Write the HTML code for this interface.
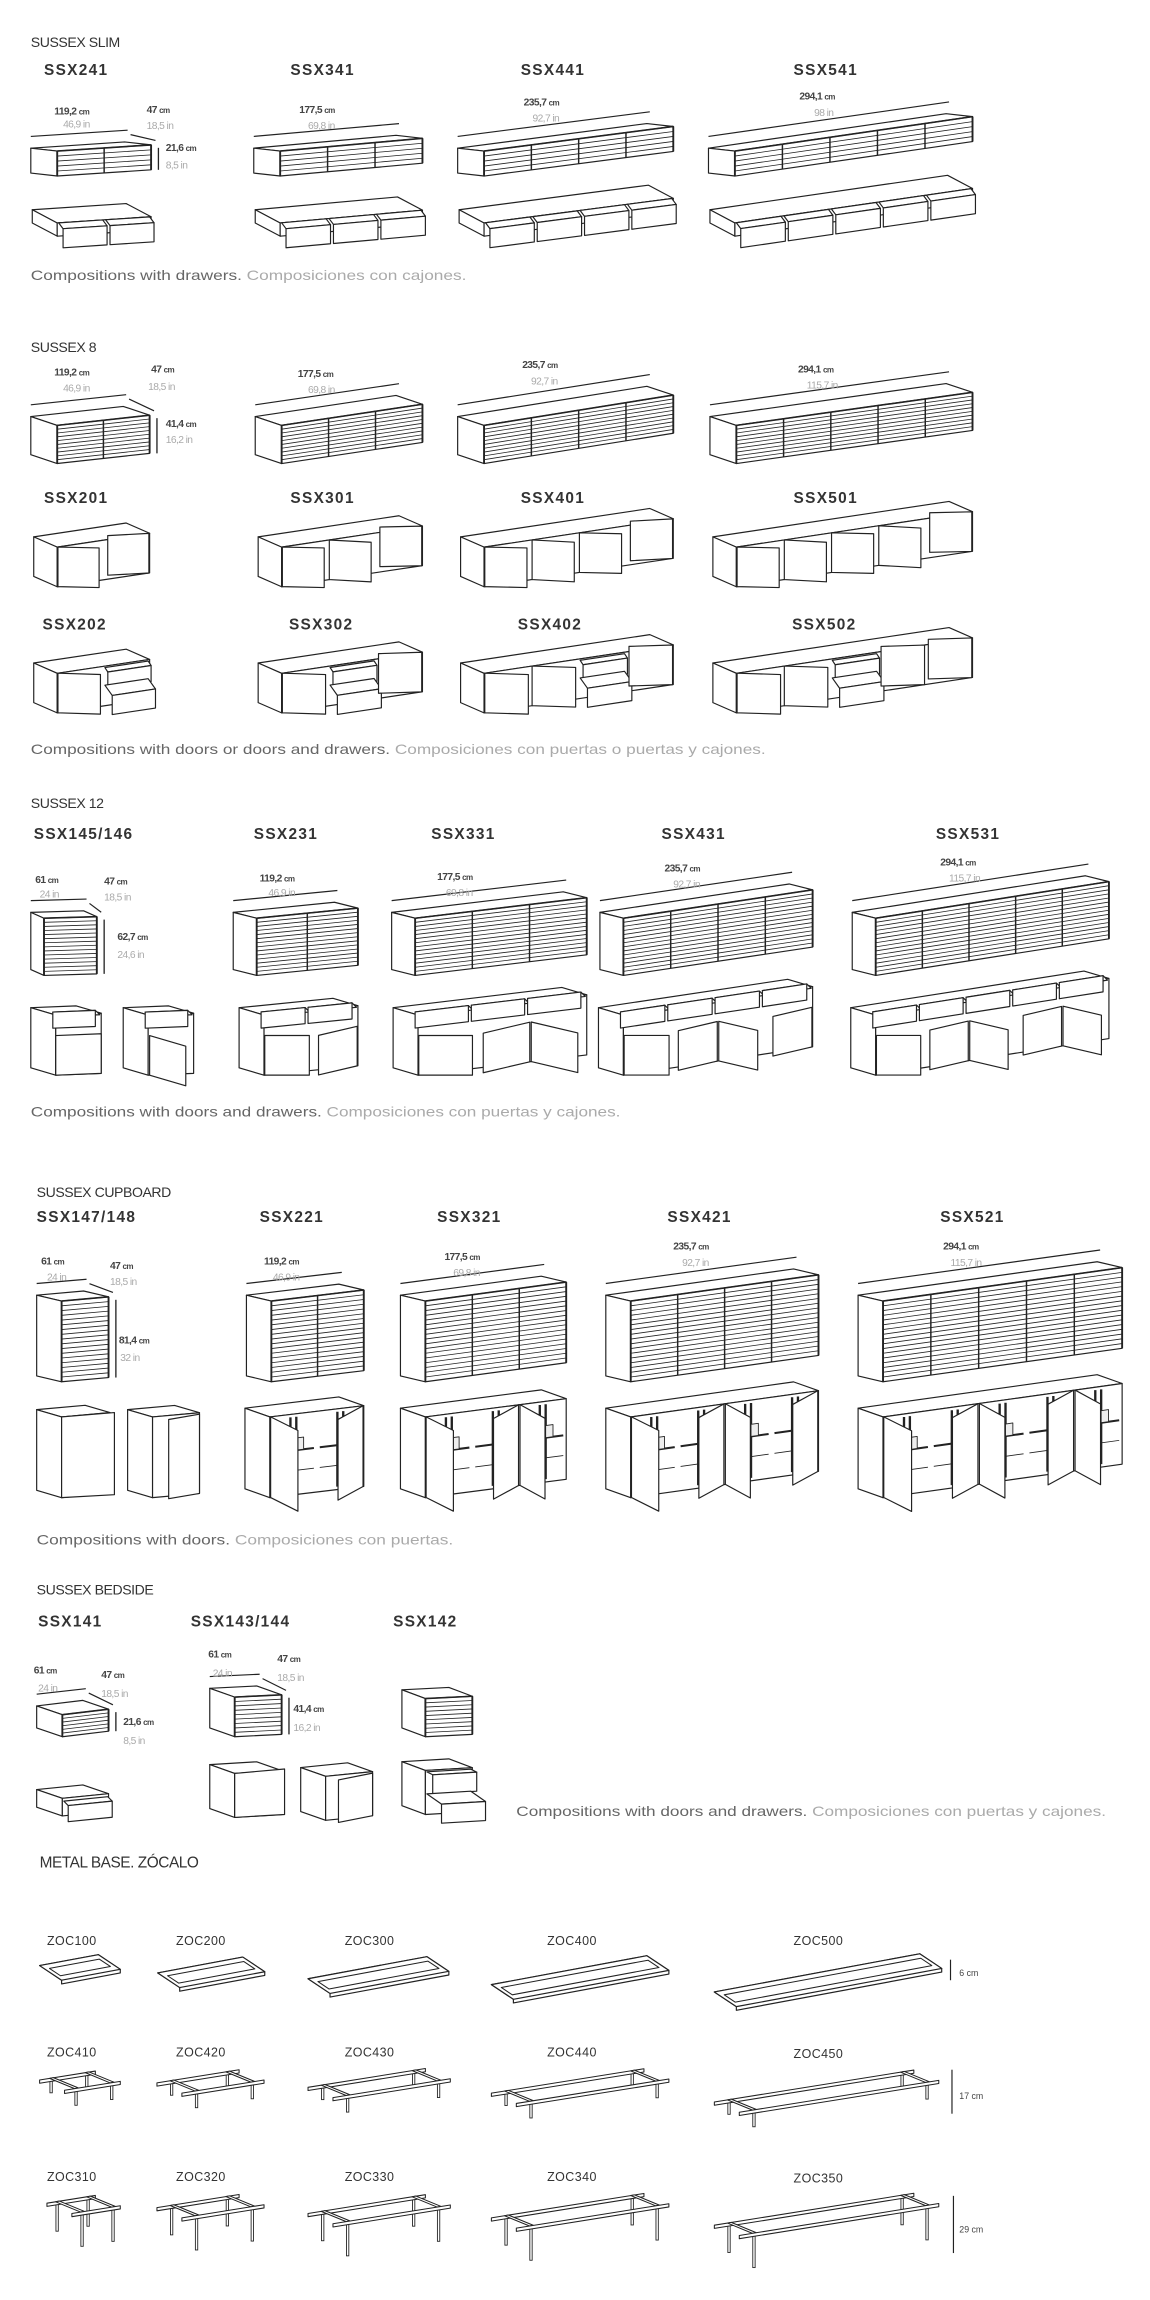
<!DOCTYPE html>
<html><head><meta charset="utf-8">
<style>
html,body{margin:0;padding:0;background:#fff;}
svg{display:block}
text{font-family:"Liberation Sans",sans-serif;}
.h{font-size:9.6px;fill:#333;letter-spacing:-0.3px}
.l{font-size:10.5px;font-weight:bold;fill:#333;letter-spacing:0.9px}
.z{font-size:8.5px;fill:#333;letter-spacing:0.3px}
.c{font-size:7px;font-weight:bold;fill:#444;letter-spacing:-0.4px}
.c tspan.u{font-size:5.5px}
.i{font-size:7px;fill:#aaa;letter-spacing:-0.4px}
.cap{font-size:9.5px;fill:#666}
.cap tspan.g{fill:#aaa}
</style></head>
<body>
<svg xmlns="http://www.w3.org/2000/svg" width="1150" height="2300" viewBox="0 0 784 1568" preserveAspectRatio="none">
<rect width="784" height="1568" fill="#fff"/>
<g id="g"></g>
<g id="t">
<!-- SLIM -->
<text class="h" x="21" y="32">SUSSEX SLIM</text>
<text class="l" x="30" y="51">SSX241</text>
<text class="l" x="198" y="51">SSX341</text>
<text class="l" x="355" y="51">SSX441</text>
<text class="l" x="541" y="51">SSX541</text>
<text class="c" x="37" y="78">119,2 <tspan class="u">cm</tspan></text><text class="i" x="43" y="87">46,9 in</text>
<text class="c" x="100" y="77">47 <tspan class="u">cm</tspan></text><text class="i" x="100" y="88">18,5 in</text>
<text class="c" x="113" y="103">21,6 <tspan class="u">cm</tspan></text><text class="i" x="113" y="115">8,5 in</text>
<text class="c" x="204" y="77">177,5 <tspan class="u">cm</tspan></text><text class="i" x="210" y="88">69,8 in</text>
<text class="c" x="357" y="72">235,7 <tspan class="u">cm</tspan></text><text class="i" x="363" y="83">92,7 in</text>
<text class="c" x="545" y="68">294,1 <tspan class="u">cm</tspan></text><text class="i" x="555" y="79">98 in</text>
<text class="cap" x="21" y="191" textLength="297" lengthAdjust="spacingAndGlyphs">Compositions with drawers. <tspan class="g">Composiciones con cajones.</tspan></text>
<!-- S8 -->
<text class="h" x="21" y="240">SUSSEX 8</text>
<text class="c" x="37" y="256">119,2 <tspan class="u">cm</tspan></text><text class="i" x="43" y="267">46,9 in</text>
<text class="c" x="103" y="254">47 <tspan class="u">cm</tspan></text><text class="i" x="101" y="266">18,5 in</text>
<text class="c" x="113" y="291">41,4 <tspan class="u">cm</tspan></text><text class="i" x="113" y="302">16,2 in</text>
<text class="c" x="203" y="257">177,5 <tspan class="u">cm</tspan></text><text class="i" x="210" y="268">69,8 in</text>
<text class="c" x="356" y="251">235,7 <tspan class="u">cm</tspan></text><text class="i" x="362" y="262">92,7 in</text>
<text class="c" x="544" y="254">294,1 <tspan class="u">cm</tspan></text><text class="i" x="550" y="265">115,7 in</text>
<text class="l" x="30" y="343">SSX201</text>
<text class="l" x="198" y="343">SSX301</text>
<text class="l" x="355" y="343">SSX401</text>
<text class="l" x="541" y="343">SSX501</text>
<text class="l" x="29" y="429">SSX202</text>
<text class="l" x="197" y="429">SSX302</text>
<text class="l" x="353" y="429">SSX402</text>
<text class="l" x="540" y="429">SSX502</text>
<text class="cap" x="21" y="514" textLength="501" lengthAdjust="spacingAndGlyphs">Compositions with doors or doors and drawers. <tspan class="g">Composiciones con puertas o puertas y cajones.</tspan></text>
<!-- S12 -->
<text class="h" x="21" y="551">SUSSEX 12</text>
<text class="l" x="23" y="572">SSX145/146</text>
<text class="l" x="173" y="572">SSX231</text>
<text class="l" x="294" y="572">SSX331</text>
<text class="l" x="451" y="572">SSX431</text>
<text class="l" x="638" y="572">SSX531</text>
<text class="c" x="24" y="602">61 <tspan class="u">cm</tspan></text><text class="i" x="27" y="612">24 in</text>
<text class="c" x="71" y="603">47 <tspan class="u">cm</tspan></text><text class="i" x="71" y="614">18,5 in</text>
<text class="c" x="80" y="641">62,7 <tspan class="u">cm</tspan></text><text class="i" x="80" y="653">24,6 in</text>
<text class="c" x="177" y="601">119,2 <tspan class="u">cm</tspan></text><text class="i" x="183" y="611">46,9 in</text>
<text class="c" x="298" y="600">177,5 <tspan class="u">cm</tspan></text><text class="i" x="304" y="611">69,8 in</text>
<text class="c" x="453" y="594">235,7 <tspan class="u">cm</tspan></text><text class="i" x="459" y="605">92,7 in</text>
<text class="c" x="641" y="590">294,1 <tspan class="u">cm</tspan></text><text class="i" x="647" y="601">115,7 in</text>
<text class="cap" x="21" y="761" textLength="402" lengthAdjust="spacingAndGlyphs">Compositions with doors and drawers. <tspan class="g">Composiciones con puertas y cajones.</tspan></text>
<!-- CUPBOARD -->
<text class="h" x="25" y="816">SUSSEX CUPBOARD</text>
<text class="l" x="25" y="833">SSX147/148</text>
<text class="l" x="177" y="833">SSX221</text>
<text class="l" x="298" y="833">SSX321</text>
<text class="l" x="455" y="833">SSX421</text>
<text class="l" x="641" y="833">SSX521</text>
<text class="c" x="28" y="862">61 <tspan class="u">cm</tspan></text><text class="i" x="32" y="873">24 in</text>
<text class="c" x="75" y="865">47 <tspan class="u">cm</tspan></text><text class="i" x="75" y="876">18,5 in</text>
<text class="c" x="81" y="916">81,4 <tspan class="u">cm</tspan></text><text class="i" x="82" y="928">32 in</text>
<text class="c" x="180" y="862">119,2 <tspan class="u">cm</tspan></text><text class="i" x="186" y="873">46,9 in</text>
<text class="c" x="303" y="859">177,5 <tspan class="u">cm</tspan></text><text class="i" x="309" y="870">69,8 in</text>
<text class="c" x="459" y="852">235,7 <tspan class="u">cm</tspan></text><text class="i" x="465" y="863">92,7 in</text>
<text class="c" x="643" y="852">294,1 <tspan class="u">cm</tspan></text><text class="i" x="648" y="863">115,7 in</text>
<text class="cap" x="25" y="1053" textLength="284" lengthAdjust="spacingAndGlyphs">Compositions with doors. <tspan class="g">Composiciones con puertas.</tspan></text>
<!-- BEDSIDE -->
<text class="h" x="25" y="1087">SUSSEX BEDSIDE</text>
<text class="l" x="26" y="1109">SSX141</text>
<text class="l" x="130" y="1109">SSX143/144</text>
<text class="l" x="268" y="1109">SSX142</text>
<text class="c" x="23" y="1141">61 <tspan class="u">cm</tspan></text><text class="i" x="26" y="1153">24 in</text>
<text class="c" x="69" y="1144">47 <tspan class="u">cm</tspan></text><text class="i" x="69" y="1157">18,5 in</text>
<text class="c" x="84" y="1176">21,6 <tspan class="u">cm</tspan></text><text class="i" x="84" y="1189">8,5 in</text>
<text class="c" x="142" y="1130">61 <tspan class="u">cm</tspan></text><text class="i" x="145" y="1143">24 in</text>
<text class="c" x="189" y="1133">47 <tspan class="u">cm</tspan></text><text class="i" x="189" y="1146">18,5 in</text>
<text class="c" x="200" y="1167">41,4 <tspan class="u">cm</tspan></text><text class="i" x="200" y="1180">16,2 in</text>
<text class="cap" x="352" y="1238" textLength="402" lengthAdjust="spacingAndGlyphs">Compositions with doors and drawers. <tspan class="g">Composiciones con puertas y cajones.</tspan></text>
<!-- ZOCALO -->
<text class="h" x="27" y="1273" style="font-size:10.5px">METAL BASE. ZÓCALO</text>
<text class="z" x="32" y="1326">ZOC100</text><text class="z" x="120" y="1326">ZOC200</text><text class="z" x="235" y="1326">ZOC300</text><text class="z" x="373" y="1326">ZOC400</text><text class="z" x="541" y="1326">ZOC500</text>
<text class="z" x="32" y="1402">ZOC410</text><text class="z" x="120" y="1402">ZOC420</text><text class="z" x="235" y="1402">ZOC430</text><text class="z" x="373" y="1402">ZOC440</text><text class="z" x="541" y="1403">ZOC450</text>
<text class="z" x="32" y="1487">ZOC310</text><text class="z" x="120" y="1487">ZOC320</text><text class="z" x="235" y="1487">ZOC330</text><text class="z" x="373" y="1487">ZOC340</text><text class="z" x="541" y="1488">ZOC350</text>
<text x="654" y="1347" style="font-size:6px;fill:#444">6 cm</text>
<text x="654" y="1431" style="font-size:6px;fill:#444">17 cm</text>
<text x="654" y="1522" style="font-size:6px;fill:#444">29 cm</text>
</g>
</svg>
<script>
(function(){
const NS='http://www.w3.org/2000/svg';
const G=document.getElementById('g');
const SC='#222';
function el(tag,a){const e=document.createElementNS(NS,tag);for(const k in a)e.setAttribute(k,a[k]);G.appendChild(e);return e;}
function f(p){return p[0].toFixed(2)+','+p[1].toFixed(2);}
function poly(pts,fill,sw){el('polygon',{points:pts.map(f).join(' '),fill:fill||'#fff',stroke:SC,'stroke-width':sw||0.8,'stroke-linejoin':'round'});}
function ln(a,b,sw,c){el('line',{x1:a[0],y1:a[1],x2:b[0],y2:b[1],stroke:c||SC,'stroke-width':sw||0.8});}
function A(p,v){return [p[0]+v[0],p[1]+v[1]];}
function geo(fx,fy,w,h,dx,dy,s){
  const F=[fx,fy],R=[fx+w,fy-w*s],B=[fx-dx,fy-dy],BR=[fx+w-dx,fy-w*s-dy];
  return {F,R,B,BR,Fb:[fx,fy+h],Rb:[R[0],R[1]+h],Bb:[B[0],B[1]+h],fx,fy,w,h,s,dx,dy};
}
function pt(g,u,v){return [g.fx+u,g.fy-u*g.s+v];}
function shell(g){poly([g.B,g.BR,g.R,g.F]);poly([g.B,g.F,g.Fb,g.Bb]);poly([g.F,g.R,g.Rb,g.Fb]);}
function closed(g,cols,n){
  shell(g);
  for(let k=1;k<n;k++)ln(pt(g,0,k*g.h/n),pt(g,g.w,k*g.h/n),0.55);
  for(let i=1;i<cols;i++)ln(pt(g,i*g.w/cols,0),pt(g,i*g.w/cols,g.h),1);
  ln(g.F,g.Fb,1.3);ln(g.R,g.Rb,1.3);ln(g.F,g.R,1.1);
}
function dims(g,first){
  ln(A(g.B,[0,-8]),A(g.BR,[2,-8]),0.8);
  if(first){
    ln(A(g.BR,[4,-5]),A(g.R,[3,-3]),0.8);
    ln([g.R[0]+5,g.R[1]+2],[g.R[0]+5,g.R[1]+g.h],0.9);
  }
}
// drawer pulled out: panel from u0 to u1, v0 to v1, pulled by P
function drawer(g,u0,u1,v0,v1,P){
  const a=pt(g,u0,v0),b=pt(g,u1,v0);
  const a2=A(a,P),b2=A(b,P);
  poly([a,b,b2,a2]);
  poly([a2,b2,A(b2,[0,v1-v0]),A(a2,[0,v1-v0])]);
}
// door: hinge side 'L' or 'R', open vector
function door(g,u0,u1,v0,v1,side,ox,oy){
  const pw=u1-u0;
  let H,Ht;
  if(side==='L'){H=pt(g,u0,v0);Ht=A(H,[pw*ox,pw*oy]);}
  else{H=pt(g,u1,v0);Ht=A(H,[-pw*ox,pw*oy]);}
  const hh=v1-v0;
  poly([H,Ht,A(Ht,[0,hh]),A(H,[0,hh])]);
}
function interior(g,u0,u1){
  const m=(u0+u1)/2;
  ln(pt(g,m-2,2),pt(g,m-2,g.h-2),1.6);
  ln(pt(g,m+2,2),pt(g,m+2,g.h-2),1.6);
  ln(pt(g,u0+2,g.h*0.45),pt(g,u1-2,g.h*0.45),1.4);
  ln(pt(g,u0+2,g.h*0.7),pt(g,u1-2,g.h*0.7),0.6);
  poly([pt(g,m+2,g.h*0.3),pt(g,m+7,g.h*0.3),pt(g,m+7,g.h*0.45),pt(g,m+2,g.h*0.45)],'#eee',0.6);
}
// ===== SLIM =====
const slim=[[39,64,2,0.066],[191,97,3,0.09],[330,129,4,0.13],[501,162,5,0.145]];
slim.forEach((b,i)=>{const g=geo(b[0],103,b[1],17,18,2,b[3]);closed(g,b[2],5);dims(g,i===0);});
slim.forEach(b=>{
  const g=geo(b[0],152,b[1],9,17,9,b[3]);
  poly([g.B,g.BR,g.R,g.F]);poly([g.B,g.F,g.Fb,g.Bb]);poly([g.F,g.R,g.Rb,g.Fb]);
  const n=b[2],pw=b[1]/n;
  for(let k=0;k<n;k++)drawer(g,k*pw+1,(k+1)*pw-1,0,13,[3,4]);
});
// ===== S8 =====
const s8=[[39,63,2,0.11],[192,96,3,0.15],[330,129,4,0.16],[502,161,5,0.14]];
s8.forEach((b,i)=>{const g=geo(b[0],290,b[1],26,18,6,b[3]);closed(g,b[2],10);dims(g,i===0);});
s8.forEach(b=>{
  const g=geo(b[0],373,b[1],27,16,7,0.15);shell(g);
  const n=b[2],pw=b[1]/n;
  for(let k=0;k<n;k++){
    const side=(k===n-1)?'R':'L';
    door(g,k*pw+0.5,(k+1)*pw-0.5,0,27,side,0.92,0.02+0.03*(k%2));
  }
});
s8.forEach(b=>{
  const g=geo(b[0],459,b[1],27,16,7,0.15);shell(g);
  const n=b[2],pw=b[1]/n;
  const mid=(n===2)?1:Math.floor(n/2);
  for(let k=0;k<n;k++){
    if(k===mid){
      drawer(g,k*pw+1,(k+1)*pw-1,1,12,[2,3]);
      drawer(g,k*pw+1,(k+1)*pw-1,13,26,[5,7]);
    }else{
      const side=(k>mid)?'R':'L';
      door(g,k*pw+0.5,(k+1)*pw-0.5,0,27,side,0.95,0.03);
    }
  }
});
// ===== S12 =====
const s12=[[30,36,1,0.03],[175,69,2,0.1],[283,117,3,0.12],[425,129,4,0.15],[597,159,5,0.157]];
s12.forEach((b,i)=>{const g=geo(b[0],626,b[1],39,i===0?9:16,4,b[3]);closed(g,b[2],14);dims(g,i===0);});
const s12o=[[38,31,1,0.04],[101,31,1,0.04],[180,64,2,0.1],[285,115,3,0.12],[425,129,4,0.15],[597,159,5,0.157]];
s12o.forEach((b,j)=>{
  const g=geo(b[0],692,b[1],41,17,5,b[3]);shell(g);
  const n=b[2],pw=b[1]/n;
  for(let k=0;k<n;k++){
    if(n===1&&j===1){door(g,1,pw-1,14,41,'L',0.85,0.25);}
    else if(n===1){poly([pt(g,0,14),pt(g,pw,14),pt(g,pw,41),pt(g,0,41)]);}
    else{
      const side=(k%2===0)?'L':'R';
      door(g,k*pw+0.5,(k+1)*pw-0.5,14,41,side,k===0?0.98:0.85,k===0?0.0:0.2);
    }
  }
  for(let k=0;k<n;k++)drawer(g,k*pw+1,(k+1)*pw-1,1,12,[-3+k*0,-3]);
});
// ===== CUPBOARD =====
const cb=[[42,32,1,0.09],[185,63,2,0.12],[290,96,3,0.135],[430,128,4,0.14],[602,163,5,0.14]];
cb.forEach((b,i)=>{const g=geo(b[0],887,b[1],55,17,4,b[3]);closed(g,b[2],17);dims(g,i===0);});
// open singles
(function(){
  let g=geo(42,966,33,55,17,5,0.09);shell(g);
  poly([pt(g,0,0),A(pt(g,0,0),[36,-3]),A(pt(g,0,0),[36,53]),pt(g,0,55)]);
  g=geo(104,966,32,55,17,5,0.09);shell(g);
  door(g,2,32,1,55,'R',0.7,0.12);
})();
const cbo=[[184,64,2,0.12],[290,96,3,0.13],[430,128,4,0.14],[602,163,5,0.14]];
cbo.forEach(b=>{
  const g=geo(b[0],966,b[1],55,17,6,b[3]);shell(g);
  const n=b[2],pw=b[1]/n;
  for(let k=0;k<n;k++)interior(g,k*pw,(k+1)*pw);
  for(let k=0;k<n;k++){
    const side=(k%2===0)?'L':'R';
    door(g,k*pw+0.5,(k+1)*pw-0.5,0,55,side,k===0?0.6:0.55,0.3);
  }
});
// ===== BEDSIDE =====
(function(){
  let g=geo(42.5,1169,31.5,15,17.5,6,0.12);closed(g,1,6);dims(g,true);
  g=geo(160,1157,32,27,17,6,0.05);closed(g,1,9);dims(g,true);
  g=geo(290,1158,32,26,16,6,0.05);closed(g,1,9);
  g=geo(42.5,1226,31.5,12,17.5,6,0.1);shell(g);drawer(g,1,31,2,13,[3,3]);
  g=geo(160,1209,32,30,17,6,0.06);shell(g);
  poly([pt(g,0,0),A(pt(g,0,0),[34,-3]),A(pt(g,0,0),[34,28]),pt(g,0,30)]);
  g=geo(222,1211,32,30,17,6,0.1);shell(g);door(g,1,32,1,30,'R',0.75,0.15);
  g=geo(290,1207,32,30,16,6,0.06);shell(g);
  drawer(g,1,31,1,14,[4,2]);drawer(g,1,31,16,29,[10,7]);
})();
// ===== ZOCALO =====
function tray(x,y,Lx,sl){
  const S=[15,10],L=[Lx,-Lx*sl];
  const P0=[x,y],P1=A(P0,S),P2=A(P1,L),P3=A(P0,L);
  poly([P0,P1,A(P1,[0,2.5]),A(P2,[0,2.5]),P2,P3],'#fff',0.8);
  poly([P0,P1,P2,P3],'#fff',0.8);
  const a=3/Lx;
  const q=(u,v)=>[x+S[0]*v+L[0]*u,y+S[1]*v+L[1]*u];
  poly([q(a,0.25),q(a,0.75),q(1-a,0.75),q(1-a,0.25)],'#fff',0.7);
}
const tr=[[27,1340,40],[107.5,1345,58],[210,1349,81],[335,1353,106],[487,1358,140]];
tr.forEach(t=>tray(t[0],t[1],t[2],0.186));
ln([648,1336],[648,1350],0.8);
function bar(p,L,th){poly([p,A(p,L),A(A(p,L),[0,th]),A(p,[0,th])],'#fff',0.7);}
function frame(x,y,Lx,sl,legH){
  const S=[17,7],L=[Lx,-Lx*sl];
  const e=Math.min(9,Lx*0.18);
  const q=(u,v)=>[x+S[0]*v+L[0]*u/Lx,y+S[1]*v+L[1]*u/Lx];
  // legs
  [[e,0],[Lx-e,0],[e,1],[Lx-e,1]].forEach((c,i)=>{
    const p=q(c[0]+1,c[1]);
    const hL=legH*(c[1]===1?1:0.85);
    el('rect',{x:p[0]-0.8,y:p[1]+1.5,width:1.6,height:hL,fill:'#fff',stroke:SC,'stroke-width':0.6});
  });
  bar(q(0,0),L,2.2);
  // crossbars
  [e,Lx-e].forEach(u=>{const p=q(u,0);poly([p,A(p,[2.5,-0.5]),A(q(u,1),[2.5,-0.5]),q(u,1)],'#fff',0.7);});
  bar(q(0,1),L,2.2);
}
const fr2=[[27,1418,38],[107,1420,56],[210,1423,80],[335,1427,104],[487,1433,136]];
fr2.forEach(t=>frame(t[0],t[1],t[2],0.16,10));
ln([649,1411],[649,1441],0.8);
const fr3=[[32,1502,33],[107,1505,56],[210,1509,80],[335,1512,104],[487,1517,136]];
fr3.forEach(t=>frame(t[0],t[1],t[2],0.16,22));
ln([650,1497],[650,1536],0.8);
})();
</script>
</body></html>
